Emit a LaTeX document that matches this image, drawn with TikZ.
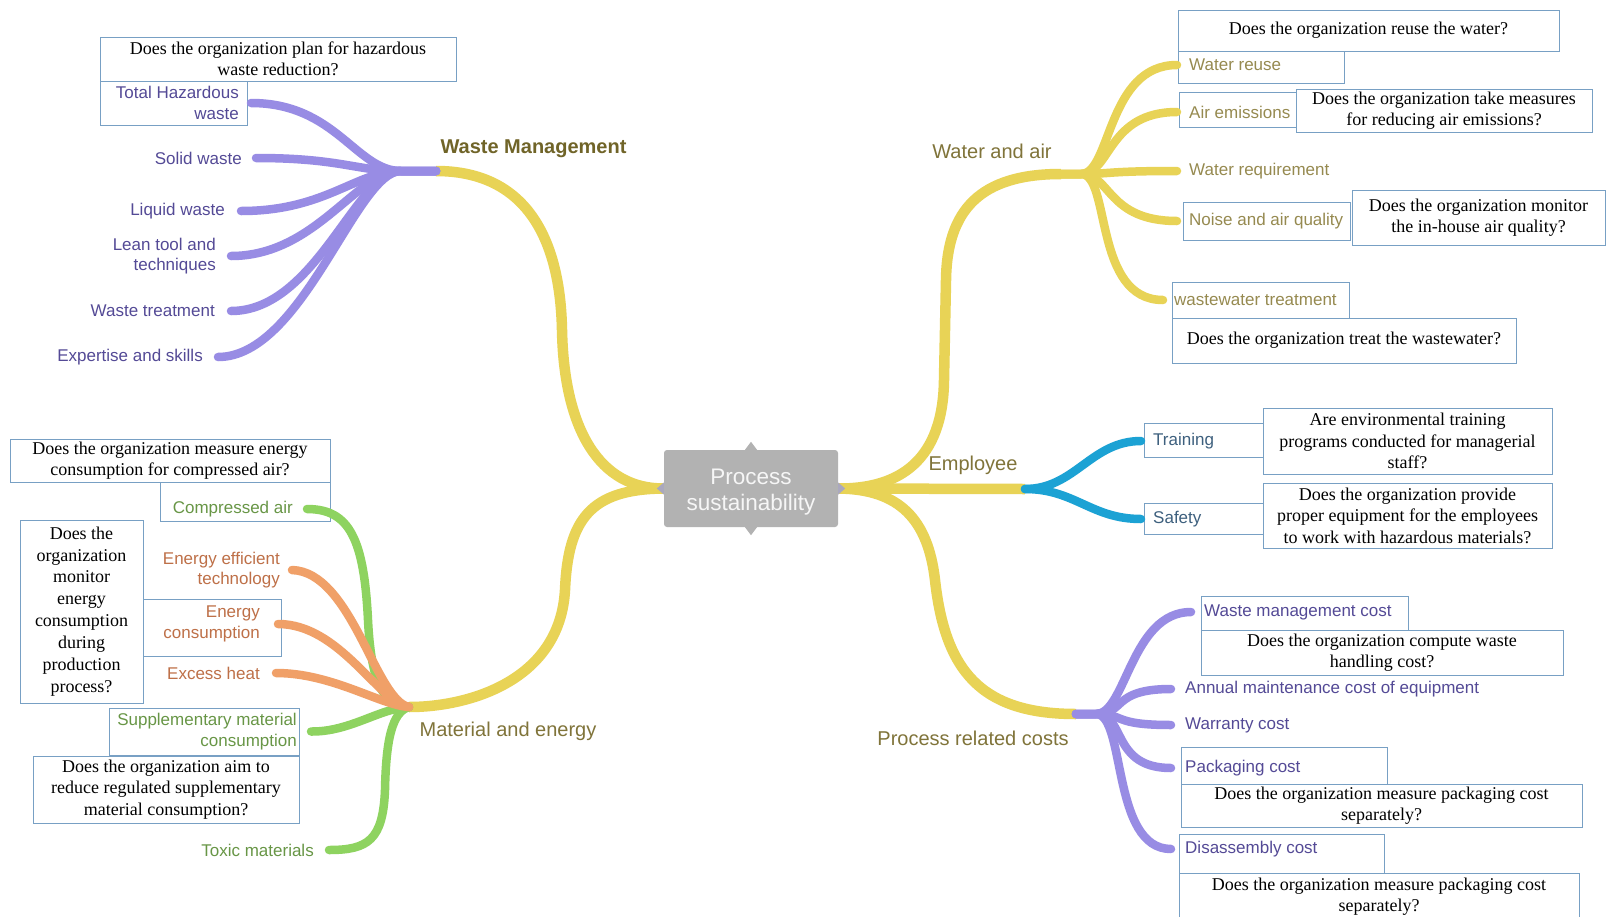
\documentclass[tikz,border=0pt]{standalone}
\usepackage{fontspec}
\setmainfont{Liberation Serif}
\newfontfamily\lsans{Liberation Sans}

\definecolor{ybr}{RGB}{232,211,86}
\definecolor{pbr}{RGB}{152,140,228}
\definecolor{gbr}{RGB}{142,211,96}
\definecolor{obr}{RGB}{240,160,104}
\definecolor{bbr}{RGB}{28,162,212}
\definecolor{cgray}{RGB}{178,178,178}
\definecolor{cnotch}{RGB}{170,168,190}
\definecolor{boxc}{RGB}{120,160,196}
\definecolor{olv}{RGB}{128,116,58}
\definecolor{olvd}{RGB}{112,100,40}
\definecolor{olvl}{RGB}{150,138,80}
\definecolor{ptxt}{RGB}{84,74,150}
\definecolor{gtxt}{RGB}{104,150,70}
\definecolor{otxt}{RGB}{190,112,72}
\definecolor{btxt}{RGB}{62,96,126}

\newcommand\qf{\fontsize{18}{21.5}\selectfont}
\newcommand\qft{\fontsize{18}{21.9}\selectfont}
\newcommand\lf{\lsans\fontsize{17}{20.5}\selectfont}
\newcommand\mf{\lsans\fontsize{20}{24}\selectfont}
\newcommand\cf{\lsans\fontsize{22.5}{26}\selectfont}

% question box from its corners: name, x1, y1, x2, y2, text
\newcommand\qnode[6]{%
  \pgfmathsetmacro\boxw{#4-#2}\pgfmathsetmacro\boxh{#5-#3}%
  \node[qbox, minimum width=\boxw pt, minimum height=\boxh pt] (#1) at ({(#2+#4)/2},{(#3+#5)/2}) {#6};}
% empty frame round a label: name, x1, y1, x2, y2
\newcommand\frnode[5]{%
  \pgfmathsetmacro\boxw{#4-#2}\pgfmathsetmacro\boxh{#5-#3}%
  \node[frame, minimum width=\boxw pt, minimum height=\boxh pt] (#1) at ({(#2+#4)/2},{(#3+#5)/2}) {};}

\tikzset{
  qbox/.style={draw=boxc, line width=0.9pt, inner sep=0pt, align=center, font=\qf},
  frame/.style={draw=boxc, line width=0.9pt, inner sep=0pt},
  lab/.style={font=\lf, inner ysep=0pt},
  labL/.style={lab, anchor=east, align=right},
  labR/.style={lab, anchor=west, align=left},
  mainlab/.style={font=\mf, text=olv},
  trunk/.style={draw=ybr, line width=10.5pt},
  twig/.style={line width=8.5pt, line cap=round},
}

\begin{document}
\begin{tikzpicture}[x=1pt, y=-1pt]
\useasboundingbox (0,0) rectangle (1607,916);
\clip (0,0) rectangle (1607,916);
\fill[white] (0,0) rectangle (1607,916);

% ---------- centre ----------
\node[fill=cgray, rounded corners=3pt, minimum width=174pt, minimum height=77pt,
      inner sep=0pt] (ps) at (751,488.5) {};
\node[text=white!93!gray, font=\cf, align=center, inner sep=0pt] (pstext) at (751,492)
      {Process\\sustainability};

% ---------- junctions ----------
\coordinate (wm) at (436,171);
\coordinate (me) at (409,707);
\coordinate (wa) at (1061,174);
\coordinate (em) at (1025,489);
\coordinate (pc) at (1076,714);

% ---------- branch titles ----------
\node[mainlab, font=\mf\bfseries, text=olvd] (wmlab) at (533.5,149) {Waste Management};
\node[mainlab] (walab) at (992,151) {Water and air};
\node[mainlab] (emlab) at (973,465) {Employee};
\node[mainlab] (melab) at (508,731) {Material and energy};
\node[mainlab] (pclab) at (973,738) {Process related costs};

% ---------- waste management ----------
\qnode{qhaz}{100}{37}{456}{81}{Does the organization plan for hazardous\\waste reduction?}
\frnode{fthw}{100}{81}{247}{125}
\node[labL, text=ptxt, inner xsep=12pt] (thw) at (251,103) {Total Hazardous\\waste};
\node[labL, text=ptxt, inner xsep=14pt] (solid) at (256,158) {Solid waste};
\node[labL, text=ptxt, inner xsep=16pt] (liquid) at (241,211) {Liquid waste};
\node[labL, text=ptxt, inner xsep=15pt] (lean) at (231,256) {Lean tool and\\techniques};
\node[labL, text=ptxt, inner xsep=16pt] (wtr) at (231,311) {Waste treatment};
\node[labL, text=ptxt, inner xsep=15pt] (exper) at (218,357) {Expertise and skills};

% ---------- water and air ----------
\qnode{qreuse}{1178}{10}{1559}{51}{Does the organization reuse the water?}
\frnode{fwreuse}{1178}{51}{1344}{83}
\node[labR, text=olvl, inner xsep=12pt] (wreuse) at (1177,65) {Water reuse};
\frnode{fairem}{1179}{92}{1296}{127}
\qnode{qair}{1296}{89}{1592}{132}{Does the organization take measures\\for reducing air emissions?}
\node[labR, text=olvl, inner xsep=12pt] (airem) at (1177,112) {Air emissions};
\node[labR, text=olvl, inner xsep=12pt] (wreq) at (1177,171) {Water requirement};
\frnode{fnoise}{1183}{202}{1350}{240}
\qnode{qnoise}{1352}{190}{1605}{245}{Does the organization monitor\\the in-house air quality?}
\node[labR, text=olvl, inner xsep=12pt] (noise) at (1177,221) {Noise and air quality};
\frnode{fwwt}{1172}{282}{1349}{318}
\qnode{qwwt}{1172}{318}{1516}{363}{Does the organization treat the wastewater?}
\node[labR, text=olvl, inner xsep=11pt] (wwt) at (1163,300) {wastewater treatment};

% ---------- employee ----------
\frnode{ftrain}{1144}{423}{1263}{457}
\qnode{qtrain}{1263}{408}{1552}{474}{Are environmental training\\programs conducted for managerial\\staff?}
\node[labR, text=btxt, inner xsep=12pt] (train) at (1141,441) {Training};
\frnode{fsafety}{1144}{503}{1263}{534}
\qnode{qsafety}{1263}{483}{1552}{548}{Does the organization provide\\proper equipment for the employees\\to work with hazardous materials?}
\node[labR, text=btxt, inner xsep=12pt] (safety) at (1141,519) {Safety};

% ---------- process related costs ----------
\frnode{fwmc}{1201}{596}{1408}{630}
\qnode{qwmc}{1201}{630}{1563}{675}{Does the organization compute waste\\handling cost?}
\node[labR, text=ptxt, inner xsep=13pt] (wmc) at (1191,612) {Waste management cost};
\node[labR, text=ptxt, inner xsep=14pt] (annual) at (1171,689) {Annual maintenance cost of equipment};
\node[labR, text=ptxt, inner xsep=14pt] (warranty) at (1171,725) {Warranty cost};
\frnode{fpack}{1181}{747}{1387}{784}
\qnode{qpack}{1181}{784}{1582}{827}{Does the organization measure packaging cost\\separately?}
\node[labR, text=ptxt, inner xsep=14pt] (pack) at (1171,768) {Packaging cost};
\frnode{fdis}{1179}{834}{1384}{873}
\qnode{qdis}{1179}{873}{1579}{920}{Does the organization measure packaging cost\\separately?}
\node[labR, text=ptxt, inner xsep=14pt] (dis) at (1171,849) {Disassembly cost};

% ---------- material and energy ----------
\qnode{qca}{10}{439}{330}{482}{Does the organization measure energy\\consumption for compressed air?}
\frnode{fca}{160}{482}{330}{521}
\node[labL, text=gtxt, inner xsep=14pt] (ca) at (307,509) {Compressed air};
\node[qbox, font=\qft, minimum width=123pt, minimum height=183pt] (qmon) at (81.5,611.5)
      {Does the\\organization\\monitor\\energy\\consumption\\during\\production\\process?};
\node[labL, text=otxt, inner xsep=12pt] (eeff) at (292,570) {Energy efficient\\technology};
\frnode{fecon}{143}{599}{281}{656}
\node[labL, text=otxt, inner xsep=18pt] (econ) at (278,624) {Energy\\consumption};
\node[labL, text=otxt, inner xsep=16pt] (exh) at (276,673) {Excess heat};
\frnode{fsupp}{109}{708}{299}{755}
\node[labL, text=gtxt, inner xsep=14pt] (supp) at (311,731.5) {Supplementary material\\consumption};
\qnode{qsupp}{33}{756}{299}{823}{Does the organization aim to\\reduce regulated supplementary\\material consumption?}
\node[labL, text=gtxt, inner xsep=15pt] (toxic) at (329,850) {Toxic materials};

% ---------- main branches ----------
\draw[trunk] (ps.west) .. controls (600,489) and (564,430) .. (562,330)
                       .. controls (560,230) and (520,171) .. (wm);
\draw[trunk] (ps.west) .. controls (590,489) and (568,520) .. (565,590)
                       .. controls (560,680) and (470,707) .. (me);
\draw[trunk] (ps.east) .. controls (900,489) and (943,460) .. (944,380) -- (946,280)
                       .. controls (947,210) and (980,174) .. (wa);
\draw[trunk] (ps.east) -- (em);
\draw[trunk] (ps.east) .. controls (900,489) and (928,520) .. (935,580)
                       .. controls (945,670) and (980,714) .. (pc);

% ---------- sub-branches ----------
\foreach \t in {thw,solid,liquid,lean,wtr,exper}
  \draw[twig, draw=pbr] (wm) -- ++(-35,0) .. controls +(-45,0) and +(85,0) .. (\t.east);
\foreach \t in {wreuse,airem,wreq,noise,wwt}
  \draw[twig, draw=ybr] (wa) -- ++(20,0) .. controls +(30,0) and +(-70,0) .. (\t.west);
\foreach \t in {train,safety}
  \draw[twig, draw=bbr] (em) .. controls +(50,0) and +(-50,0) .. (\t.west);
\foreach \t in {wmc,annual,warranty,pack,dis}
  \draw[twig, draw=pbr] (pc) -- ++(20,0) .. controls +(30,0) and +(-60,0) .. (\t.west);
\draw[twig, draw=gbr] (me) .. controls (382,706) and (371,680) .. (368,620)
                           .. controls (364,540) and (350,509) .. (ca.east);
\draw[twig, draw=gbr] (me) .. controls (380,708) and (350,732) .. (supp.east);
\draw[twig, draw=gbr] (me) .. controls (392,712) and (386,740) .. (385,790)
                           .. controls (383,840) and (368,850) .. (toxic.east);
\draw[twig, draw=obr] (me) .. controls (375,700) and (352,572) .. (eeff.east);
\draw[twig, draw=obr] (me) .. controls (378,702) and (340,624) .. (econ.east);
\draw[twig, draw=obr] (me) .. controls (380,705) and (332,673) .. (exh.east);

% ---------- notches on the centre box ----------
\fill[cgray] ([xshift=-6pt]ps.north) -- ([yshift=8pt]ps.north) -- ([xshift=6pt]ps.north) -- cycle;
\fill[cgray] ([xshift=-6pt]ps.south) -- ([yshift=-8pt]ps.south) -- ([xshift=6pt]ps.south) -- cycle;
\fill[cnotch] ([yshift=6pt]ps.west) -- ([xshift=-7pt]ps.west) -- ([yshift=-6pt]ps.west) -- cycle;
\fill[cnotch] ([yshift=6pt]ps.east) -- ([xshift=7pt]ps.east) -- ([yshift=-6pt]ps.east) -- cycle;
\end{tikzpicture}
\end{document}
